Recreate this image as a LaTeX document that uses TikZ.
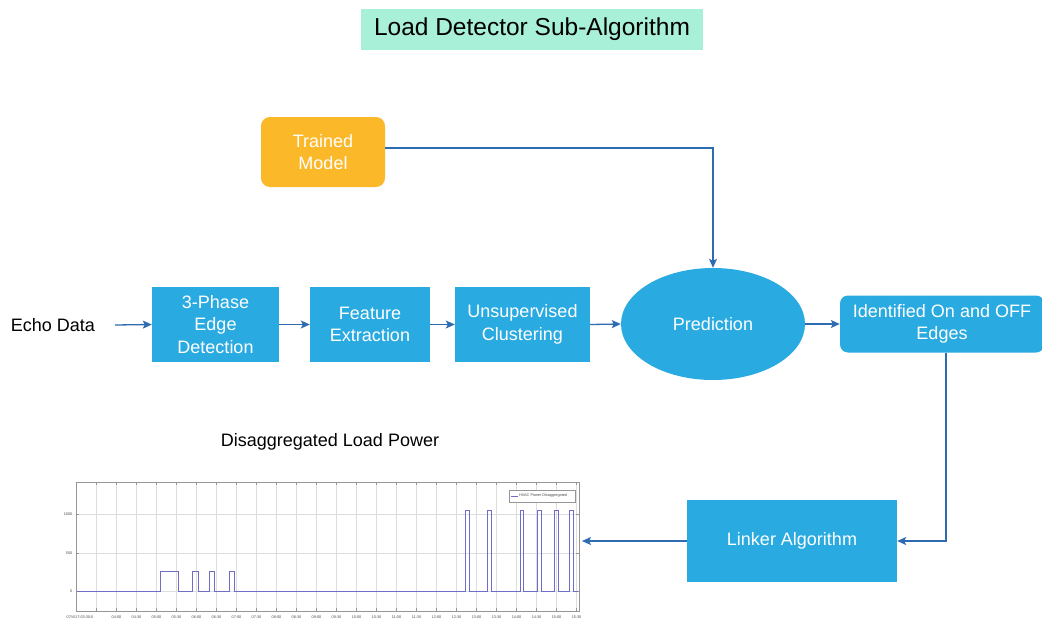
\documentclass[tikz,border=0pt]{standalone}
\usepackage{fontspec}
\setmainfont{Liberation Sans}
\usetikzlibrary{arrows.meta,shapes.geometric,positioning}
\definecolor{boxblue}{RGB}{41,171,226}
\definecolor{arrblue}{RGB}{46,108,178}
\definecolor{orng}{RGB}{251,184,41}
\definecolor{mint}{RGB}{168,240,216}
\definecolor{sig}{RGB}{110,110,200}
\definecolor{grid}{RGB}{222,222,222}
\definecolor{frm}{RGB}{150,150,150}
\tikzset{
  blk/.style={fill=boxblue, draw=none, text=white, align=center,
    font=\fontsize{18}{22.5}\selectfont, inner sep=0pt},
  arr/.style={draw=arrblue, line width=1.3pt, -{Stealth[length=9pt,width=8pt,inset=2pt]}},
  tiny/.style={font=\fontsize{3.8}{4}\selectfont, text=black!70, inner sep=0.5pt},
}
\begin{document}
\begin{tikzpicture}[x=1pt,y=-1pt]
\useasboundingbox (0,0) rectangle (1042,621);
\fill[white] (0,0) rectangle (1042,621);

% title
\node[fill=mint, minimum width=342pt, minimum height=41pt, inner sep=0pt,
  font=\fontsize{24.5}{28}\selectfont] (title) at (532,29.5) {Load Detector Sub-Algorithm};

% nodes
\node[blk, fill=orng, rounded corners=9pt, minimum width=124pt, minimum height=70pt] (trained) at (323,152) {Trained\\Model};
\node[font=\fontsize{18}{22}\selectfont, inner sep=0pt] (echo) at (53,325) {Echo Data};
\node[blk, minimum width=127pt, minimum height=75pt] (ph3) at (215.5,324.5) {3-Phase\\Edge\\Detection};
\node[blk, minimum width=120pt, minimum height=75pt] (feat) at (370,324.5) {Feature\\Extraction};
\node[blk, minimum width=135pt, minimum height=75pt] (unsup) at (522.5,324.5) {Unsupervised\\Clustering};
\node[blk, ellipse, minimum width=184pt, minimum height=112pt] (pred) at (713,324) {Prediction};
\node[blk, rounded corners=8pt, minimum width=204pt, minimum height=57pt] (ident) at (942,324) {Identified On and OFF\\Edges};
\node[blk, minimum width=210pt, minimum height=82pt] (linker) at (792,541) {Linker Algorithm};
\node[font=\fontsize{18}{22}\selectfont, inner sep=0pt] (ctitle) at (330,442) {Disaggregated Load Power};

% chart
\begin{scope}
  \foreach \k in {0,...,24} {
    \draw[grid, line width=0.6pt] ({96.5+20*\k},482) -- ({96.5+20*\k},611);
    \draw[frm, line width=0.4pt] ({96.5+20*\k},611) -- ({96.5+20*\k},608);
    \draw[frm, line width=0.4pt] ({96.5+20*\k},482) -- ({96.5+20*\k},485);
  }
  \foreach \yy in {514,553,591} {
    \draw[grid, line width=0.6pt] (76,\yy) -- (579,\yy);
    \draw[frm, line width=0.4pt] (76,\yy) -- (79,\yy);
    \draw[frm, line width=0.4pt] (579,\yy) -- (576,\yy);
  }
  \draw[frm, line width=0.7pt] (76,482) rectangle (579,611);
  \node[tiny, anchor=east] (y1000) at (73,514) {1000};
  \node[tiny, anchor=east] (y500) at (73,553) {500};
  \node[tiny, anchor=east] (y0) at (73,591) {0};
  \node[tiny] (x0) at (80,617) {07/4/17-03:30:0};
  \foreach \k/\lab in {1/04:00,2/04:30,3/05:00,4/05:30,5/06:00,6/06:30,7/07:00,8/07:30,9/08:00,10/08:30,11/09:00,12/09:30,13/10:00,14/10:30,15/11:00,16/11:30,17/12:00,18/12:30,19/13:00,20/13:30,21/14:00,22/14:30,23/15:00,24/15:30} {
    \node[tiny] at ({96.5+20*\k},617) {\lab};
  }
  \draw[sig, line width=0.8pt] (77,591) -- (160,591) -- (160,571) -- (178,571) -- (178,591)
    -- (192,591) -- (192,571) -- (198,571) -- (198,591)
    -- (209,591) -- (209,571) -- (214,571) -- (214,591)
    -- (229,591) -- (229,571) -- (234,571) -- (234,591)
    -- (465,591) -- (465,510) -- (469,510) -- (469,591)
    -- (487,591) -- (487,510) -- (491,510) -- (491,591)
    -- (520,591) -- (520,510) -- (523,510) -- (523,591)
    -- (537,591) -- (537,510) -- (541,510) -- (541,591)
    -- (554,591) -- (554,510) -- (558,510) -- (558,591)
    -- (569,591) -- (569,510) -- (573,510) -- (573,591) -- (578,591);
  \draw[frm, fill=white, line width=0.4pt] (509,490) rectangle (575,502);
  \draw[sig, line width=0.5pt] (511,496) -- (518,496);
  \node[tiny, anchor=west, inner sep=0pt] (leg) at (519,496) {HVAC Power Disaggregated};
\end{scope}

% connectors
\coordinate (echoout) at (115,325);
\coordinate (bend) at (946,541);
\coordinate (chartin) at (582,541);
\draw[arr] (echoout) -- (ph3.west);
\draw[arr] (ph3.east) -- (feat.west);
\draw[arr] (feat.east) -- (unsup.west);
\draw[arr] (unsup.east) -- (pred.west);
\draw[arr] (pred.east) -- (ident.west);
\draw[arr] (trained.east |- 0,148) -| (pred.north);
\draw[arr] (ident.south -| bend) |- (linker.east);
\draw[arr] (linker.west) -- (chartin);
\end{tikzpicture}
\end{document}
